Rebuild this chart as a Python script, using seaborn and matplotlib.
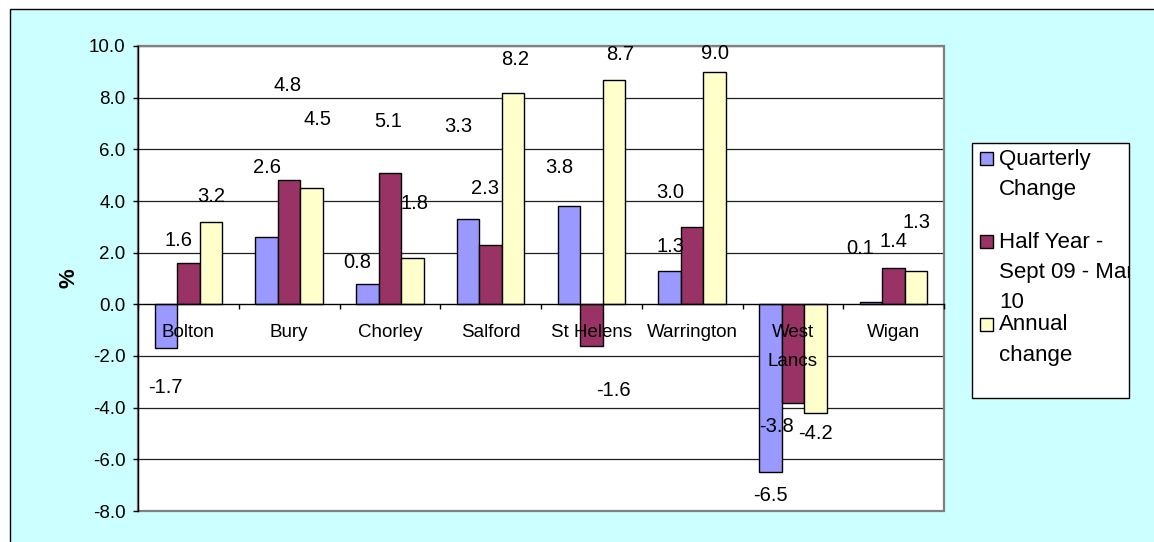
import matplotlib
matplotlib.use("Agg")
import matplotlib.pyplot as plt
import pandas as pd
import seaborn as sns
from matplotlib.patches import Rectangle
from matplotlib.ticker import FixedLocator, FormatStrFormatter

# ---- data -------------------------------------------------------------
areas = ["Bolton", "Bury", "Chorley", "Salford", "St Helens",
         "Warrington", "West\nLancs", "Wigan"]
series_names = ["Quarterly\nChange", "Half Year -\nSept 09 - Mar\n10", "Annual\nchange"]
quarterly = [-1.7, 2.6, 0.8, 3.3, 3.8, 1.3, -6.5, 0.1]
half_year = [1.6, 4.8, 5.1, 2.3, -1.6, 3.0, -3.8, 1.4]
annual = [3.2, 4.5, 1.8, 8.2, 8.7, 9.0, -4.2, 1.3]
y_ticks = [-8, -6, -4, -2, 0, 2, 4, 6, 8, 10]

# ---- styling ----------------------------------------------------------
colors = ["#9999FF", "#993366", "#FFFFCC"]
# per-label nudges (dx, dy) in pixels from each bar's end
label_nudges = [
    [(0, -40), (0, 69), (-10, 20), (-10, 92), (-10, 38), (1, 23), (0, -24), (-11, 52)],
    [(-10, 21), (-2, 94), (-2, 50), (-6, 55), (22, -46), (-22, 33), (-16, -25), (0, 26)],
    [(0, 24), (6, 68), (2, 53), (2, 32), (6, 24), (0, 17), (0, -22), (0, 47)],
]

W, H = 1154, 542
sns.set_theme(style="white")
plt.rcParams["font.family"] = ["Liberation Sans", "DejaVu Sans"]

df = pd.DataFrame({
    "area": areas * 3,
    "series": [s for s in series_names for _ in areas],
    "value": quarterly + half_year + annual,
})

fig = plt.figure(figsize=(W / 100, H / 100), dpi=100)
fig.patch.set_facecolor("white")


def fx(px):
    return px / W


def fy(py):
    return 1 - py / H


# chart area background
fig.patches.append(Rectangle((fx(10), -0.05), 1.2, fy(9) + 0.05,
                             transform=fig.transFigure, facecolor="#CCFFFF",
                             edgecolor="black", linewidth=1, zorder=-10))

ax = fig.add_axes([fx(138), fy(511), fx(944) - fx(138), fy(46) - fy(511)])
ax.set_zorder(1)
ax.set_facecolor("white")

sns.barplot(data=df, x="area", y="value", hue="series", order=areas,
            hue_order=series_names, palette=colors, saturation=1,
            width=0.67, edgecolor="black", linewidth=1, errorbar=None,
            legend=False, ax=ax)

ax.set_xlim(-0.5, len(areas) - 0.5)
ax.set_ylim(min(y_ticks), max(y_ticks))
ax.set_axisbelow(False)

# horizontal gridlines behind the bars
for t in y_ticks:
    if t != 0:
        ax.axhline(t, color="#202020", linewidth=0.9, zorder=0.5)

# plot-area frame
ax.add_patch(Rectangle((0, 0), 1, 1, transform=ax.transAxes, fill=False,
                       edgecolor="#808080", linewidth=1.6, clip_on=False, zorder=2.4))

for side in ["top", "right"]:
    ax.spines[side].set_visible(False)
ax.spines["left"].set_color("black")
ax.spines["left"].set_linewidth(1)
ax.spines["bottom"].set_position(("data", 0))
ax.spines["bottom"].set_color("black")
ax.spines["bottom"].set_linewidth(1)

ax.yaxis.set_major_locator(FixedLocator(y_ticks))
ax.yaxis.set_major_formatter(FormatStrFormatter("%.1f"))
ax.tick_params(axis="y", left=True, length=3.6, width=1, color="black",
               pad=5.5, labelsize=13.5, labelcolor="black")

ax.xaxis.set_minor_locator(FixedLocator([i - 0.5 for i in range(len(areas) + 1)]))
ax.tick_params(axis="x", which="minor", bottom=True, direction="out",
               length=3.6, width=1, color="black")
ax.tick_params(axis="x", which="major", bottom=True, length=0, pad=14,
               labelsize=13.5, labelcolor="black")
for lbl in ax.get_xticklabels():
    lbl.set_linespacing(1.95)
ax.set_xlabel("")

ax.set_ylabel("%", fontsize=16, fontweight="bold", color="black")
ax.yaxis.set_label_coords(-0.073, 0.5)

# value labels
for container, vals, nudges in zip(ax.containers, [quarterly, half_year, annual], label_nudges):
    for bar, v, (dx, dy) in zip(container, vals, nudges):
        xc = bar.get_x() + bar.get_width() / 2
        ax.annotate(f"{v:.1f}", (xc, bar.get_y() + bar.get_height()),
                    xytext=(dx, dy + 1), textcoords="offset pixels",
                    ha="center", va="center", fontsize=14.5, color="black",
                    zorder=4, annotation_clip=False)

# legend box
box = Rectangle((fx(972), fy(398)), fx(1129) - fx(972), fy(143) - fy(398),
                transform=fig.transFigure, facecolor="white",
                edgecolor="black", linewidth=1, zorder=5)
fig.patches.append(box)
entry_tops = [158, 241, 324]
line_step = 30.5
for name, col, top in zip(series_names, colors, entry_tops):
    fig.patches.append(Rectangle((fx(980), fy(top + 7)), fx(13), 13 / H,
                                 transform=fig.transFigure, facecolor=col,
                                 edgecolor="black", linewidth=1, zorder=6))
    for i, line in enumerate(name.split("\n")):
        t = fig.text(fx(999), fy(top + i * line_step + 1), line, ha="left",
                     va="center", fontsize=16, color="black", zorder=6)
        t.set_clip_path(box)

fig.savefig("out.png", dpi=100, facecolor=fig.get_facecolor())
